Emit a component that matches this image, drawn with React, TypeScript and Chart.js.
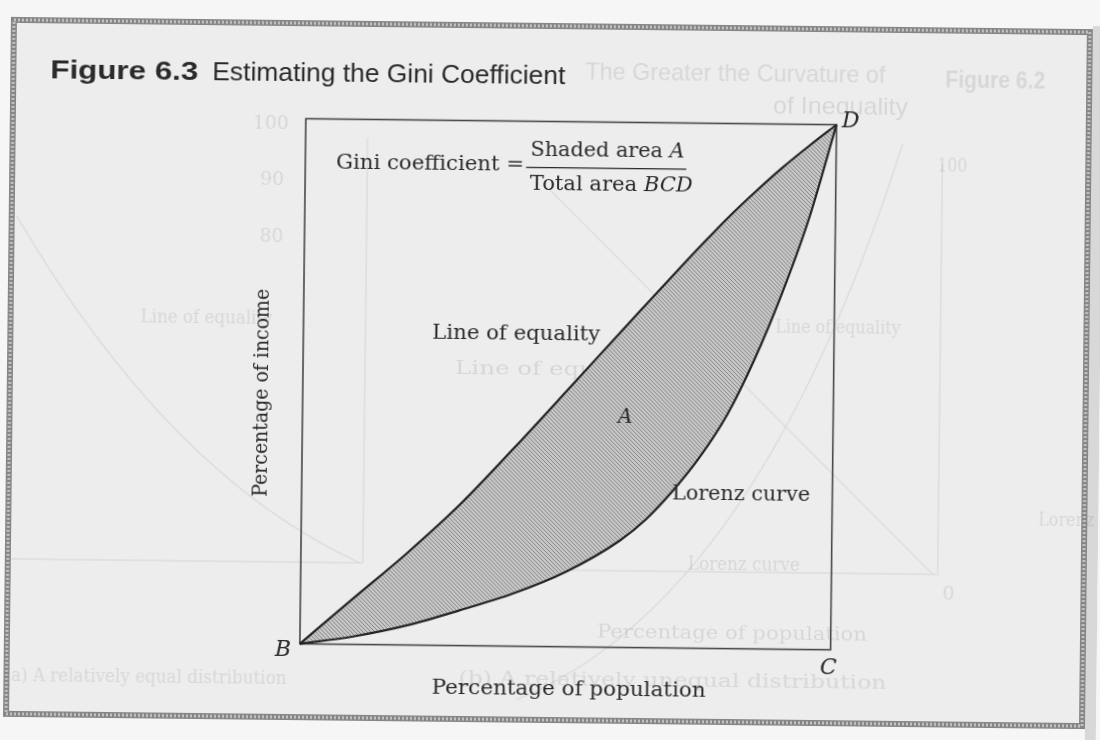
import React, { useEffect, useRef } from 'react';
import { Chart, registerables } from 'chart.js';

Chart.register(...registerables);

// ---- data (percent of population vs. cumulative percent of income) ----
const populationShare = [0, 10, 20, 30, 40, 50, 60, 65, 70, 75, 80, 85, 90, 95, 100];
const equalityIncome = [0, 8.8, 17.5, 27, 37.8, 49, 60.3, 65.9, 71.5, 77, 82.3, 87.2, 91.8, 96, 100];
const lorenzIncome = [0, 1.5, 3.7, 6.7, 10, 14.3, 20.3, 24.5, 30, 36.5, 44.5, 55, 67.5, 82, 100];

// ---- text ----
const titleBold = 'Figure 6.3';
const titleText = 'Estimating the Gini Coefficient';
const xAxisTitle = 'Percentage of population';
const yAxisTitle = 'Percentage of income';
const equalityLabel = 'Line of equality';
const lorenzLabel = 'Lorenz curve';
const areaLabel = 'A';
const giniLeft = 'Gini coefficient =';
const giniNumerator = ['Shaded area ', 'A'];
const giniDenominator = ['Total area ', 'BCD'];
const cornerLabels = ['B', 'C', 'D'];

// faint show-through from the facing page of the scan
const ghostTexts = [
  { t: 'The Greater the Curvature of', x: 582, y: 72, w: 300, sans: true },
  { t: 'Figure 6.2', x: 942, y: 76, w: 100, sans: true, bold: true },
  { t: 'of Inequality', x: 770, y: 104, w: 135, sans: true },
  { t: 'Percentage of population', x: 600, y: 632, w: 270 },
  { t: '(a) A relatively equal distribution', x: 8, y: 682, w: 282 },
  { t: '(b) A relatively unequal distribution', x: 462, y: 680, w: 428 },
  { t: 'Line of equality', x: 775, y: 325, w: 125 },
  { t: 'Line of equality', x: 140, y: 322, w: 132 },
  { t: 'Line of equ', x: 455, y: 370, w: 140 },
  { t: 'Lorenz curve', x: 690, y: 563, w: 112 },
  { t: 'Lorenz cu', x: 1040, y: 515, w: 80 },
  { t: '100', x: 250, y: 127, w: 36 },
  { t: '90', x: 258, y: 183, w: 24 },
  { t: '80', x: 258, y: 240, w: 24 },
  { t: '100', x: 935, y: 162, w: 30 },
  { t: '0', x: 945, y: 590, w: 12 },
];

const SERIF = "'DejaVu Serif', 'Liberation Serif', serif";
const SANS = "'Liberation Sans', Arial, sans-serif";
const INK = '#2a2a2a';

type Seg = { t: string; italic?: boolean; bold?: boolean };

function drawSegs(
  ctx: CanvasRenderingContext2D,
  segs: Seg[],
  family: string,
  size: number,
  x: number,
  y: number,
  width: number,
  align: 'left' | 'center',
  rotate = 0,
  color = INK
) {
  ctx.save();
  const fontOf = (s: Seg) => `${s.italic ? 'italic ' : ''}${s.bold ? 'bold ' : ''}${size}px ${family}`;
  let natural = 0;
  const ws = segs.map((s) => {
    ctx.font = fontOf(s);
    const w = ctx.measureText(s.t).width;
    natural += w;
    return w;
  });
  const sx = width > 0 ? width / natural : 1;
  ctx.translate(x, y);
  if (rotate) ctx.rotate(rotate);
  ctx.scale(sx, 1);
  let cx = align === 'center' ? -natural / 2 : 0;
  ctx.textBaseline = 'middle';
  ctx.textAlign = 'left';
  ctx.fillStyle = color;
  segs.forEach((s, i) => {
    ctx.font = fontOf(s);
    ctx.fillText(s.t, cx, 0);
    cx += ws[i];
  });
  ctx.restore();
}

function makeHatch(ctx: CanvasRenderingContext2D) {
  const c = document.createElement('canvas');
  c.width = 4;
  c.height = 4;
  const g = c.getContext('2d')!;
  g.fillStyle = '#c8c8c8';
  g.fillRect(0, 0, 4, 4);
  g.strokeStyle = '#848484';
  g.lineWidth = 1;
  g.beginPath();
  g.moveTo(0, 0);
  g.lineTo(4, 4);
  g.moveTo(-1, 3);
  g.lineTo(1, 5);
  g.moveTo(3, -1);
  g.lineTo(5, 1);
  g.stroke();
  return ctx.createPattern(c, 'repeat')!;
}

const pagePlugin = {
  id: 'page',
  beforeDraw(chart: any) {
    const ctx: CanvasRenderingContext2D = chart.ctx;
    const W = chart.width;
    const H = chart.height;
    ctx.save();
    // paper
    ctx.fillStyle = '#f6f6f6';
    ctx.fillRect(-20, -20, W + 40, H + 40);
    ctx.fillStyle = '#ededed';
    ctx.fillRect(10, 26, 1076, 694);
    ctx.fillStyle = '#d8d8d8';
    ctx.fillRect(1089, 20, 14, H);

    // ghost show-through
    ctx.strokeStyle = 'rgba(0,0,0,0.065)';
    ctx.lineWidth = 1.5;
    ctx.beginPath();
    ctx.moveTo(365, 140);
    ctx.lineTo(365, 565);
    ctx.lineTo(10, 565);
    ctx.moveTo(15, 222);
    ctx.quadraticCurveTo(170, 480, 362, 565);
    ctx.moveTo(940, 160);
    ctx.lineTo(940, 570);
    ctx.lineTo(545, 570);
    ctx.moveTo(548, 190);
    ctx.lineTo(935, 570);
    ctx.moveTo(520, 700);
    ctx.quadraticCurveTo(760, 600, 900, 140);
    ctx.stroke();
    ghostTexts.forEach((g) =>
      drawSegs(ctx, [{ t: g.t, bold: (g as any).bold }], (g as any).sans ? SANS : SERIF, (g as any).sans ? 24 : 19, g.x, g.y, g.w, 'left', 0, 'rgba(40,40,40,0.11)')
    );

    // hatched frame
    ctx.lineWidth = 6;
    ctx.strokeStyle = '#858585';
    ctx.strokeRect(10, 26, 1076, 694);
    ctx.setLineDash([2, 2]);
    ctx.strokeStyle = '#c4c4c4';
    ctx.lineWidth = 3;
    ctx.strokeRect(10, 26, 1076, 694);
    ctx.setLineDash([]);

    // title
    drawSegs(ctx, [{ t: titleBold, bold: true }], SANS, 26, 47, 77, 148, 'left');
    drawSegs(ctx, [{ t: titleText }], SANS, 26, 209, 77, 353, 'left');
    ctx.restore();
  },
  beforeDatasetsDraw(chart: any) {
    const ctx: CanvasRenderingContext2D = chart.ctx;
    const a = chart.chartArea;
    ctx.save();
    ctx.strokeStyle = '#484848';
    ctx.lineWidth = 1.6;
    ctx.strokeRect(a.left, a.top, a.right - a.left, a.bottom - a.top);
    ctx.restore();
  },
  afterDatasetsDraw(chart: any) {
    const ctx: CanvasRenderingContext2D = chart.ctx;
    const a = chart.chartArea;
    const xs = chart.scales.x;
    const ys = chart.scales.y;
    const px = (v: number) => xs.getPixelForValue(v);
    const py = (v: number) => ys.getPixelForValue(v);
    ctx.save();
    // formula
    drawSegs(ctx, [{ t: giniLeft }], SERIF, 20, px(5.8), py(91.6), 188, 'left');
    drawSegs(ctx, [{ t: giniNumerator[0] }, { t: giniNumerator[1], italic: true }], SERIF, 20, px(56.9), py(94.4), 154, 'center');
    drawSegs(ctx, [{ t: giniDenominator[0] }, { t: giniDenominator[1], italic: true }], SERIF, 20, px(57.7), py(88.0), 163, 'center');
    ctx.strokeStyle = INK;
    ctx.lineWidth = 1.3;
    ctx.beginPath();
    ctx.moveTo(px(41.6), py(91.2));
    ctx.lineTo(px(71.8), py(91.2));
    ctx.stroke();

    // curve labels
    drawSegs(ctx, [{ t: equalityLabel }], SERIF, 20, px(40.1), py(59.3), 168, 'center');
    drawSegs(ctx, [{ t: areaLabel, italic: true }], SERIF, 20, px(60.8), py(43.7), 0, 'center');
    drawSegs(ctx, [{ t: lorenzLabel }], SERIF, 20, px(82.8), py(29.3), 138, 'center');

    // corners
    drawSegs(ctx, [{ t: cornerLabels[0], italic: true }], SERIF, 22, a.left - 17, a.bottom + 7, 0, 'center');
    drawSegs(ctx, [{ t: cornerLabels[1], italic: true }], SERIF, 22, a.right - 2, a.bottom + 19, 0, 'center');
    drawSegs(ctx, [{ t: cornerLabels[2], italic: true }], SERIF, 22, a.right + 14, a.top - 3, 0, 'center');

    // axis titles
    drawSegs(ctx, [{ t: xAxisTitle }], SERIF, 21, (a.left + a.right) / 2 + 4, a.bottom + 43, 274, 'center');
    drawSegs(ctx, [{ t: yAxisTitle }], SERIF, 21, a.left - 40, (a.top + a.bottom) / 2 + 12, 208, 'center', -Math.PI / 2);
    ctx.restore();
  },
};

export default function App() {
  const ref = useRef<HTMLCanvasElement | null>(null);
  useEffect(() => {
    document.body.style.margin = '0';
    document.body.style.background = '#f6f6f6';
    const canvas = ref.current!;
    const ctx = canvas.getContext('2d')!;
    const hatch = makeHatch(ctx);
    const chart = new Chart(canvas, {
      type: 'line',
      data: {
        datasets: [
          {
            label: equalityLabel,
            data: populationShare.map((x, i) => ({ x, y: equalityIncome[i] })),
            borderColor: '#242424',
            borderWidth: 2.2,
            pointRadius: 0,
            cubicInterpolationMode: 'monotone',
            fill: false,
            clip: 6,
          },
          {
            label: lorenzLabel,
            data: populationShare.map((x, i) => ({ x, y: lorenzIncome[i] })),
            borderColor: '#242424',
            borderWidth: 2.2,
            pointRadius: 0,
            cubicInterpolationMode: 'monotone',
            fill: { target: 0 },
            backgroundColor: hatch,
            clip: 6,
          },
        ],
      },
      options: {
        animation: false,
        responsive: false,
        maintainAspectRatio: false,
        devicePixelRatio: 1,
        layout: { padding: { left: 303, right: 266.3, top: 121.5, bottom: 93.4 } },
        plugins: {
          legend: { display: false },
          tooltip: { enabled: false },
          title: { display: false },
        },
        scales: {
          x: { type: 'linear', min: 0, max: 100, display: false },
          y: { type: 'linear', min: 0, max: 100, display: false },
        },
      },
      plugins: [pagePlugin],
    } as any);
    return () => chart.destroy();
  }, []);
  return (
    <div
      style={{
        position: 'fixed',
        left: 0,
        top: 0,
        width: 1100,
        height: 740,
        transform: 'rotate(0.65deg)',
        transformOrigin: '550px 370px',
      }}
    >
      <canvas ref={ref} width={1100} height={740} style={{ width: 1100, height: 740, display: 'block' }} />
    </div>
  );
}
